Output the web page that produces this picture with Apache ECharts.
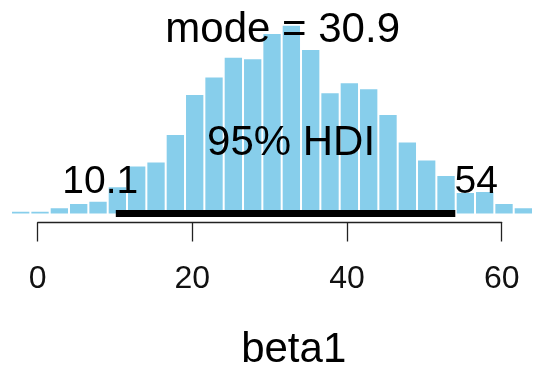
<!DOCTYPE html>
<html>
<head>
<meta charset="utf-8">
<script src="https://cdn.jsdelivr.net/npm/echarts@6/dist/echarts.min.js"></script>
<style>
html,body{margin:0;padding:0;background:#fff;}
#chart{width:539px;height:377px;}
</style>
</head>
<body>
<div id="chart"></div>
<script>
// Histogram of posterior samples of beta1
const binStart = -3.45;
const binWidth = 2.5;
const binCounts = [7, 7, 21, 38, 47, 105, 188, 204, 314, 474, 544, 623, 617, 718, 751, 654, 481, 521, 497, 394, 284, 212, 150, 82, 86, 38, 21];
const modeValue = 30.9;
const hdiLow = 10.1;
const hdiHigh = 54;
const hdiLabel = '95% HDI';
const xTicks = [0, 20, 40, 60];
const xLabel = 'beta1';

const histData = binCounts.map((c, i) => [binStart + i * binWidth, binStart + (i + 1) * binWidth, c]);

const FONT = '"Liberation Sans", Arial, Helvetica, sans-serif';
const chart = echarts.init(document.getElementById('chart'), null, {renderer: 'canvas'});

const option = {
  animation: false,
  backgroundColor: '#fff',
  grid: {left: 37.7, right: 37.3, top: 13.5, bottom: 163.5},
  xAxis: {
    type: 'value', min: xTicks[0], max: xTicks[xTicks.length - 1], interval: 20,
    offset: 9,
    splitLine: {show: false},
    axisLine: {show: true, onZero: false, lineStyle: {color: '#222', width: 1.3}},
    axisTick: {show: true, length: 19, lineStyle: {color: '#222', width: 1.3}},
    axisLabel: {show: true, margin: 41, color: '#111', fontSize: 32, fontFamily: FONT,
      formatter: v => xTicks.includes(v) ? String(v) : ''}
  },
  yAxis: {type: 'value', min: 0, max: 800, show: false},
  series: [
    {
      type: 'custom',
      clip: false,
      data: histData,
      renderItem: function (params, api) {
        const p0 = api.coord([api.value(0), 0]);
        const p1 = api.coord([api.value(1), api.value(2)]);
        return {
          type: 'rect',
          shape: {x: p0[0] + 1, y: p1[1], width: p1[0] - p0[0] - 2, height: p0[1] - p1[1]},
          style: {fill: '#87CEEB'}
        };
      },
      z: 1
    },
    {
      type: 'line',
      data: [[hdiLow, 0], [hdiHigh, 0]],
      symbol: 'none',
      clip: false,
      lineStyle: {color: '#000', width: 7, cap: 'butt'},
      z: 3
    }
  ]
};
chart.setOption(option);

const px = v => chart.convertToPixel({xAxisIndex: 0, yAxisIndex: 0}, [v, 0]);
const textEl = (txt, x, y, size) => ({
  type: 'text', z: 10,
  style: {text: txt, x: x, y: y, align: 'center', verticalAlign: 'middle',
    fontSize: size, fontFamily: FONT, fill: '#000'}
});
const modeP = px(modeValue);
const lowP = px(hdiLow);
const highP = px(hdiHigh);
const midP = px((hdiLow + hdiHigh) / 2);
const axisStart = px(xTicks[0]);
const axisEnd = px(xTicks[xTicks.length - 1]);
chart.setOption({
  graphic: [
    textEl('mode = ' + modeValue, modeP[0] + 6, 30, 42),
    textEl(hdiLabel, midP[0] + 5.5, 143, 42),
    textEl(String(hdiLow), lowP[0] - 15.5, 182, 39),
    textEl(String(hdiHigh), highP[0] + 21, 182, 39),
    textEl(xLabel, (axisStart[0] + axisEnd[0]) / 2 + 24, 350, 42)
  ]
});
</script>
</body>
</html>
